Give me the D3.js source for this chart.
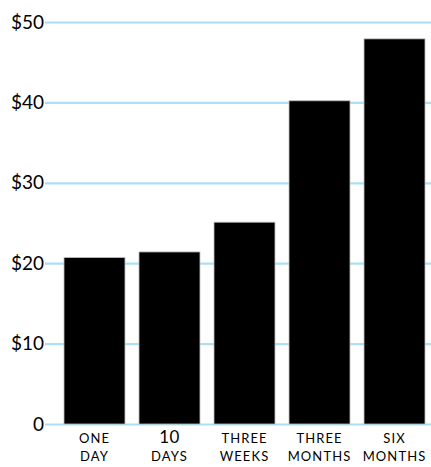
<!DOCTYPE html>
<html>
<head>
<meta charset="utf-8">
<script src="https://cdn.jsdelivr.net/npm/d3@7"></script>
<style>
  body { margin: 0; background: #fff; }
  text { font-family: Lato, "Open Sans", sans-serif; fill: #000; }
</style>
</head>
<body>
<div id="container"></div>
<script>
/* CONSTANTS AND GLOBALS */
const width = 431,
  height = 467,
  margin = { top: 22, bottom: 43, left: 64, right: 6 }

// DATA
const periods = ["ONE DAY", "10 DAYS", "THREE WEEKS", "THREE MONTHS", "SIX MONTHS"]
const periodLines = [["ONE", "DAY"], ["10", "DAYS"], ["THREE", "WEEKS"], ["THREE", "MONTHS"], ["SIX", "MONTHS"]]
const prices = [20.7, 21.4, 25.1, 40.2, 47.9]
const yTicks = [0, 10, 20, 30, 40, 50]
const yTickLabels = ["0", "$10", "$20", "$30", "$40", "$50"]

// SCALES
const xScale = d3.scaleBand()
  .domain(periods)
  .range([margin.left, width - margin.right])
  .paddingInner(0.187)
  .paddingOuter(0)

const yScale = d3.scaleLinear()
  .domain([0, 50])
  .range([height - margin.bottom, margin.top])

// CREATE SVG ELEMENT
const svg = d3.select("#container")
  .append("svg")
  .attr("width", width)
  .attr("height", height)

// GRID LINES + Y LABELS
const yAxis = d3.axisLeft(yScale)
  .tickValues(yTicks)
  .tickFormat((d, i) => yTickLabels[i])
  .tickSize(-(width - 45))
  .tickPadding(1)

const yAxisGroup = svg.append("g")
  .attr("class", "yAxis")
  .attr("transform", `translate(${45}, 0)`)
  .call(yAxis)

yAxisGroup.select(".domain").remove()
yAxisGroup.selectAll(".tick line")
  .attr("stroke", "#aadff6")
  .attr("stroke-width", 2.2)
yAxisGroup.selectAll(".tick text")
  .attr("font-size", 19)
  .attr("fill", "#000")

// DRAW BARS
svg.selectAll(".bar")
  .data(prices)
  .join("rect")
  .attr("class", "bar")
  .attr("x", (d, i) => xScale(periods[i]))
  .attr("y", d => yScale(d))
  .attr("width", xScale.bandwidth())
  .attr("height", d => yScale(0) - yScale(d))
  .attr("fill", "#000")
  .attr("stroke", "#bbb")
  .attr("stroke-width", 0.8)

// X LABELS
const xLabels = svg.selectAll(".xLabel")
  .data(periodLines)
  .join("text")
  .attr("class", "xLabel")
  .attr("text-anchor", "middle")
  .attr("transform", (d, i) => `translate(${xScale(periods[i]) + xScale.bandwidth() / 2}, 0)`)

xLabels.append("tspan")
  .attr("x", 0)
  .attr("y", 443)
  .attr("font-size", d => d[0] === "10" ? 17 : 13)
  .attr("letter-spacing", d => d[0] === "10" ? 0.3 : 1.1)
  .text(d => d[0])

xLabels.append("tspan")
  .attr("x", 0)
  .attr("y", 461)
  .attr("font-size", 13)
  .attr("letter-spacing", 1.1)
  .text(d => d[1])
</script>
</body>
</html>
